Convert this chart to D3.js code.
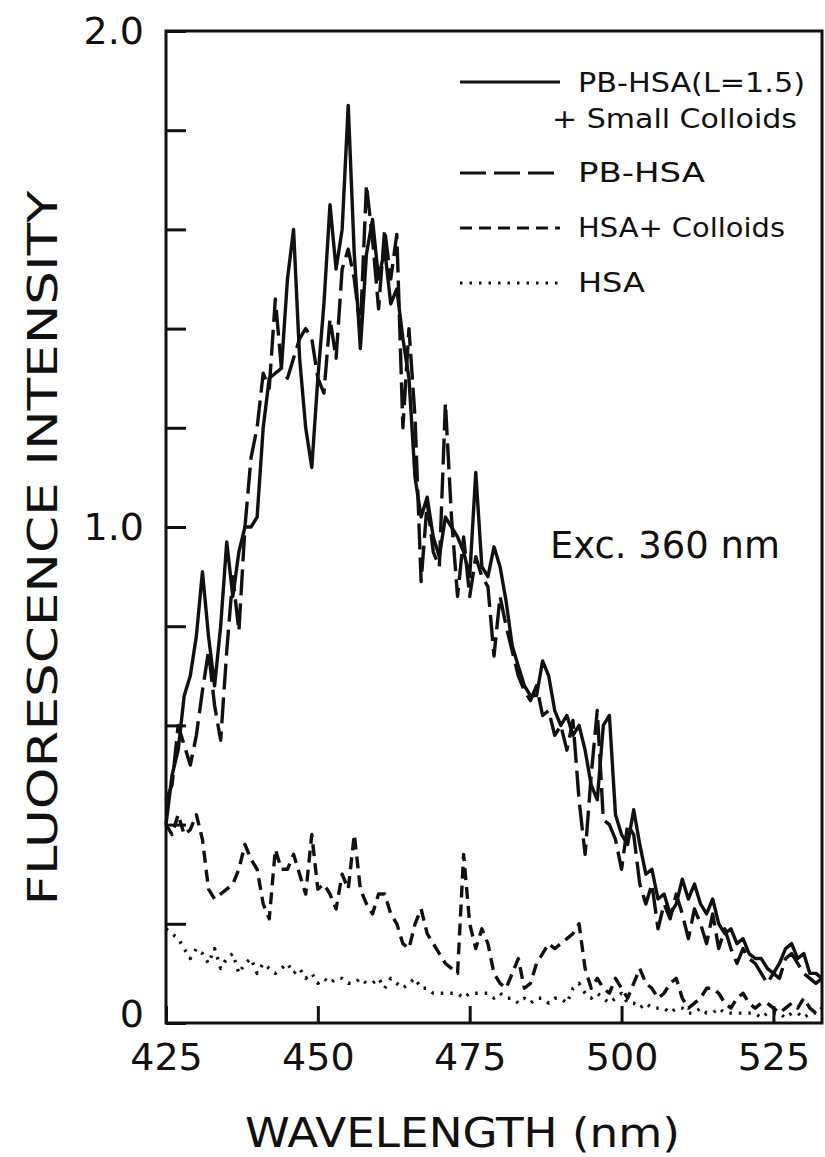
<!DOCTYPE html>
<html>
<head>
<meta charset="utf-8">
<script src="https://cdn.jsdelivr.net/npm/d3@7"></script>
<style>
  body { margin: 0; background: #fff; }
  svg text { font-family: "DejaVu Sans", "Noto Sans", sans-serif; fill: #111; }
</style>
</head>
<body>
<svg class="chart"></svg>
<script>
const size = {w: 825, h: 1157};
const frame = {left: 166, right: 822, top: 31, bottom: 1023};

// sampling grid (nm)
const wavelengths = [
  425, 426, 427, 428, 429, 430, 431, 432, 433, 434, 435, 436, 437, 438, 439, 440,
  441, 442, 443, 444, 445, 446, 447, 448, 449, 450, 451, 452, 453, 454, 455, 456,
  457, 458, 459, 460, 461, 462, 463, 464, 465, 466, 467, 468, 469, 470, 471, 472,
  473, 474, 475, 476, 477, 478, 479, 480, 481, 482, 483, 484, 485, 486, 487, 488,
  489, 490, 491, 492, 493, 494, 495, 496, 497, 498, 499, 500, 501, 502, 503, 504,
  505, 506, 507, 508, 509, 510, 511, 512, 513, 514, 515, 516, 517, 518, 519, 520,
  521, 522, 523, 524, 525, 526, 527, 528, 529, 530, 531, 532, 533
];

// PB-HSA(L=1.5) + Small Colloids (solid)
const pbHsaColloids = [
  0.40, 0.50, 0.55, 0.66, 0.70, 0.78, 0.91, 0.78, 0.68, 0.80, 0.97, 0.86, 0.95, 1.00, 1.00, 1.02,
  1.20, 1.30, 1.31, 1.32, 1.50, 1.60, 1.34, 1.20, 1.12, 1.30, 1.45, 1.65, 1.52, 1.60, 1.85, 1.55,
  1.36, 1.55, 1.62, 1.50, 1.56, 1.45, 1.48, 1.38, 1.30, 1.10, 1.02, 1.06, 0.98, 0.94, 1.02, 1.00,
  0.98, 0.95, 0.90, 1.11, 0.92, 0.90, 0.96, 0.92, 0.85, 0.76, 0.72, 0.68, 0.66, 0.66, 0.73, 0.70,
  0.63, 0.60, 0.62, 0.58, 0.60, 0.55, 0.48, 0.45, 0.60, 0.62, 0.42, 0.38, 0.36, 0.43, 0.36, 0.30,
  0.31, 0.25, 0.26, 0.22, 0.24, 0.29, 0.25, 0.28, 0.24, 0.22, 0.25, 0.20, 0.18, 0.19, 0.16, 0.17,
  0.14, 0.13, 0.13, 0.11, 0.10, 0.12, 0.15, 0.16, 0.13, 0.14, 0.10, 0.10, 0.09
];

// PB-HSA (long dashes)
const pbHsa = [
  0.45, 0.48, 0.60, 0.56, 0.52, 0.58, 0.67, 0.75, 0.64, 0.57, 0.75, 0.90, 0.79, 1.00, 1.14, 1.20,
  1.31, 1.28, 1.46, 1.32, 1.30, 1.34, 1.38, 1.40, 1.38, 1.30, 1.27, 1.42, 1.34, 1.52, 1.56, 1.50,
  1.40, 1.69, 1.58, 1.44, 1.60, 1.50, 1.59, 1.20, 1.40, 1.22, 0.89, 1.05, 0.95, 0.92, 1.25, 1.02,
  0.86, 0.98, 0.86, 0.94, 0.90, 0.88, 0.74, 0.86, 0.80, 0.75, 0.70, 0.67, 0.65, 0.68, 0.62, 0.63,
  0.58, 0.60, 0.55, 0.61, 0.45, 0.34, 0.50, 0.63, 0.41, 0.40, 0.37, 0.31, 0.40, 0.38, 0.28, 0.24,
  0.28, 0.19, 0.24, 0.21, 0.26, 0.22, 0.17, 0.23, 0.20, 0.16, 0.22, 0.15, 0.19, 0.15, 0.12, 0.15,
  0.13, 0.12, 0.10, 0.08, 0.10, 0.09, 0.13, 0.14, 0.12, 0.10, 0.09, 0.08, 0.09
];

// HSA + Colloids (short dashes)
const hsaColloids = [
  0.40, 0.38, 0.42, 0.38, 0.39, 0.42, 0.37, 0.27, 0.25, 0.26, 0.27, 0.28, 0.31, 0.36, 0.33, 0.31,
  0.24, 0.21, 0.35, 0.31, 0.31, 0.34, 0.30, 0.26, 0.38, 0.27, 0.28, 0.26, 0.23, 0.30, 0.27, 0.38,
  0.27, 0.24, 0.22, 0.26, 0.26, 0.22, 0.20, 0.16, 0.15, 0.20, 0.23, 0.18, 0.16, 0.14, 0.12, 0.11,
  0.10, 0.34, 0.20, 0.15, 0.19, 0.16, 0.10, 0.08, 0.07, 0.10, 0.13, 0.07, 0.08, 0.12, 0.14, 0.16,
  0.15, 0.16, 0.17, 0.18, 0.20, 0.11, 0.07, 0.09, 0.07, 0.06, 0.09, 0.07, 0.05, 0.08, 0.11, 0.08,
  0.07, 0.05, 0.06, 0.08, 0.09, 0.05, 0.03, 0.04, 0.05, 0.07, 0.07, 0.06, 0.04, 0.03, 0.05, 0.06,
  0.04, 0.03, 0.04, 0.04, 0.03, 0.02, 0.03, 0.04, 0.03, 0.05, 0.03, 0.02, 0.03
];

// HSA (dotted)
const hsa = [
  0.19, 0.18, 0.17, 0.15, 0.13, 0.15, 0.14, 0.12, 0.15, 0.11, 0.13, 0.14, 0.10, 0.12, 0.13, 0.10,
  0.12, 0.11, 0.10, 0.11, 0.12, 0.10, 0.11, 0.09, 0.10, 0.08, 0.09, 0.08, 0.09, 0.09, 0.08, 0.08,
  0.09, 0.08, 0.08, 0.09, 0.07, 0.09, 0.08, 0.07, 0.08, 0.09, 0.07, 0.07, 0.06, 0.06, 0.06, 0.06,
  0.06, 0.05, 0.06, 0.06, 0.06, 0.06, 0.05, 0.06, 0.05, 0.05, 0.04, 0.05, 0.04, 0.05, 0.05, 0.04,
  0.05, 0.05, 0.04, 0.07, 0.08, 0.06, 0.05, 0.06, 0.05, 0.04, 0.05, 0.06, 0.04, 0.04, 0.03, 0.04,
  0.03, 0.03, 0.03, 0.02, 0.03, 0.03, 0.02, 0.02, 0.03, 0.02, 0.02, 0.03, 0.02, 0.02, 0.02, 0.02,
  0.02, 0.02, 0.01, 0.02, 0.02, 0.02, 0.01, 0.02, 0.02, 0.01, 0.02, 0.02, 0.01
];

const xTicks = [425, 450, 475, 500, 525];
const yTicks = [0, 0.2, 0.4, 0.6, 0.8, 1.0, 1.2, 1.4, 1.6, 1.8, 2.0];
const yTickLabels = {0: '0', 1: '1.0', 2: '2.0'};

const series = [
  {name: 'solid',  values: pbHsaColloids, dash: null},
  {name: 'pbhsa',  values: pbHsa,         dash: '26,8'},
  {name: 'hsacol', values: hsaColloids,   dash: '12,7'},
  {name: 'hsa',    values: hsa,           dash: '2.5,7'}
];

// legend rows: line y, then text line(s)
const legend = [
  {dash: null,    lineY: 82,  rows: [{t: 'PB-HSA(L=1.5)', x: 578, y: 92, len: 227}, {t: '+ Small  Colloids', x: 552, y: 128, len: 245}]},
  {dash: '26,8',  lineY: 173, rows: [{t: 'PB-HSA', x: 578, y: 182, len: 127}]},
  {dash: '12,7',  lineY: 228, rows: [{t: 'HSA+ Colloids', x: 578, y: 237, len: 207}]},
  {dash: '2.5,7', lineY: 283, rows: [{t: 'HSA', x: 578, y: 292, len: 67}]}
];

const svg = d3.select('svg.chart')
    .attr('width', size.w)
    .attr('height', size.h);

const x = d3.scaleLinear()
    .domain([425, 533])
    .range([frame.left, frame.right]);
const y = d3.scaleLinear()
    .domain([0, 2])
    .range([frame.bottom, frame.top]);

// curves
const line = d3.line()
    .x((d, i) => x(wavelengths[i]))
    .y(d => y(d));

svg.append('g').classed('curves', true)
    .selectAll('path')
    .data(series)
    .join('path')
    .attr('d', d => line(d.values))
    .attr('fill', 'none')
    .attr('stroke', '#111')
    .attr('stroke-width', 3.4)
    .attr('stroke-linejoin', 'round')
    .attr('stroke-dasharray', d => d.dash);

// axes, ticks pointing inward
const yAxis = d3.axisLeft(y)
    .tickValues(yTicks)
    .tickSizeInner(-20)
    .tickSizeOuter(0)
    .tickPadding(22)
    .tickFormat(d => yTickLabels[d] || '');
const xAxis = d3.axisBottom(x)
    .tickValues(xTicks)
    .tickSizeInner(-17)
    .tickSizeOuter(0)
    .tickPadding(20)
    .tickFormat(d3.format('d'));

const gy = svg.append('g')
    .attr('transform', `translate(${frame.left},0)`)
    .call(yAxis);
const gx = svg.append('g')
    .attr('transform', `translate(0,${frame.bottom})`)
    .call(xAxis);

[gx, gy].forEach(g => {
    g.select('.domain').remove();
    g.selectAll('.tick line').attr('stroke', '#111').attr('stroke-width', 3);
    g.selectAll('.tick text')
        .attr('font-size', 38)
        .attr('fill', '#111')
        .style('font-family', '"DejaVu Sans", sans-serif');
});

// the "0" sits a little above the x labels so the two don't collide
gy.selectAll('.tick text')
    .filter(d => d === 0)
    .attr('dy', '0.1em');

// frame
svg.append('rect')
    .attr('x', frame.left)
    .attr('y', frame.top)
    .attr('width', frame.right - frame.left)
    .attr('height', frame.bottom - frame.top)
    .attr('fill', 'none')
    .attr('stroke', '#111')
    .attr('stroke-width', 3);

// axis titles
svg.append('text')
    .attr('x', 245)
    .attr('y', 1147)
    .attr('font-size', 40)
    .attr('textLength', 435)
    .attr('lengthAdjust', 'spacingAndGlyphs')
    .text('WAVELENGTH (nm)');

svg.append('text')
    .attr('transform', 'translate(57,548) rotate(-90)')
    .attr('text-anchor', 'middle')
    .attr('font-size', 40)
    .attr('textLength', 715)
    .attr('lengthAdjust', 'spacingAndGlyphs')
    .text('FLUORESCENCE  INTENSITY');

svg.append('text')
    .attr('x', 550)
    .attr('y', 558)
    .attr('font-size', 38)
    .attr('textLength', 230)
    .attr('lengthAdjust', 'spacingAndGlyphs')
    .text('Exc. 360 nm');

// legend
const lg = svg.append('g').classed('legend', true);
legend.forEach(item => {
    lg.append('line')
        .attr('x1', 460).attr('x2', 560)
        .attr('y1', item.lineY).attr('y2', item.lineY)
        .attr('stroke', '#111')
        .attr('stroke-width', 3)
        .attr('stroke-dasharray', item.dash);
    item.rows.forEach(r => {
        lg.append('text')
            .attr('x', r.x)
            .attr('y', r.y)
            .attr('font-size', 26)
            .attr('textLength', r.len)
            .attr('lengthAdjust', 'spacingAndGlyphs')
            .text(r.t);
    });
});
</script>
</body>
</html>
